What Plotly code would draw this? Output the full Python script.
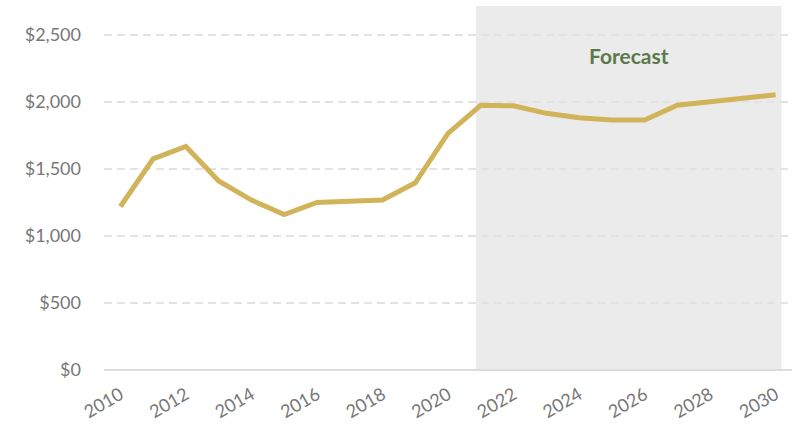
import plotly.graph_objects as go

years = list(range(2010, 2031))
values = [1220, 1575, 1668, 1410, 1268, 1160, 1250, 1258, 1268, 1397, 1766,
          1975, 1972, 1915, 1882, 1865, 1865, 1975, 2002, 2027, 2054]
y_ticks = [0, 500, 1000, 1500, 2000, 2500]
y_tick_labels = ["$0", "$500", "$1,000", "$1,500", "$2,000", "$2,500"]
x_ticks = list(range(2010, 2031, 2))
forecast_start = 2020.85
forecast_end = 2030.18
forecast_label = "Forecast"

fig = go.Figure()
fig.add_shape(type="rect", xref="x", yref="paper", x0=forecast_start, x1=forecast_end,
              y0=0, y1=1, fillcolor="#ebebeb", line_width=0, layer="below")
fig.add_trace(go.Scatter(x=years, y=values, mode="lines",
                         line=dict(color="#D1B45A", width=5), hoverinfo="skip"))
fig.add_annotation(x=2025.52, y=2343, text="<b>" + forecast_label + "</b>", showarrow=False,
                   font=dict(family="Lato, Open Sans, sans-serif", size=21, color="#5B7A4B"))

fig.update_layout(
    width=797, height=425, margin=dict(l=104, r=5, t=6, b=55),
    paper_bgcolor="white", plot_bgcolor="rgba(0,0,0,0)", showlegend=False,
    font=dict(family="Lato, Open Sans, sans-serif", color="#777777", size=17),
)
fig.update_xaxes(range=[2009.5, 2030.5], tickmode="array", tickvals=x_ticks,
                 ticktext=[str(t) for t in x_ticks], tickangle=-30, showgrid=False,
                 zeroline=False, showline=False, ticks="", automargin=False,
                 ticklabelstandoff=10, tickfont=dict(size=18, color="#777777"))
fig.update_yaxes(range=[0, 2716], tickmode="array", tickvals=y_ticks, ticktext=y_tick_labels,
                 showgrid=True, gridcolor="#e3e3e3", griddash="8px,5px", gridwidth=1.5,
                 zeroline=True, zerolinecolor="#dddddd", zerolinewidth=2,
                 showline=False, ticks="", ticklabelstandoff=22, automargin=False,
                 tickfont=dict(size=18, color="#777777"))
fig.write_html("out.html", config={"displayModeBar": False},
               post_script="document.body.style.margin='0';document.body.style.overflow='hidden';")
